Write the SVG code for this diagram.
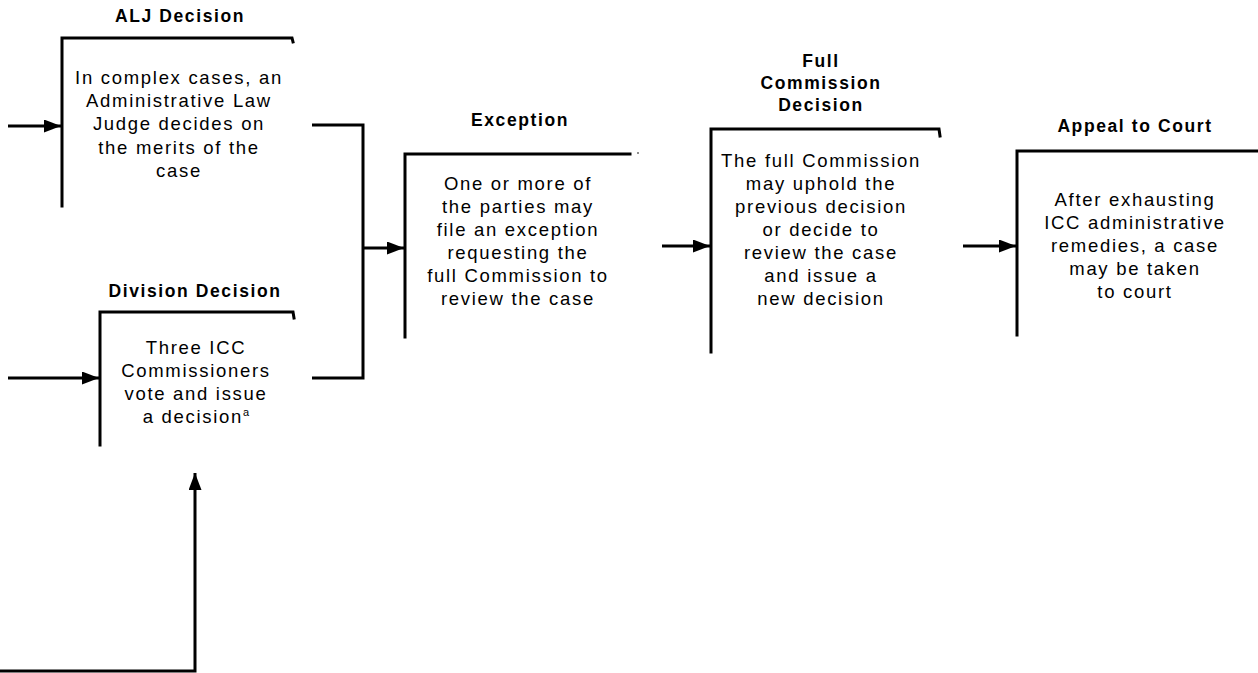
<svg xmlns="http://www.w3.org/2000/svg" width="1258" height="673" viewBox="0 0 1258 673">
<style>
.bg{fill:#fff}
.frame{fill:none;stroke:#000;stroke-width:3;stroke-linecap:square}
.conn{fill:none;stroke:#000;stroke-width:3}
.title{font-family:"Liberation Sans",Arial,sans-serif;font-weight:bold;font-size:17.5px;letter-spacing:1.6px;text-anchor:middle;fill:#000}
.body{font-family:"Liberation Sans",Arial,sans-serif;font-size:18.5px;letter-spacing:1.7px;text-anchor:middle;fill:#000}
.sup{font-size:11px;letter-spacing:0}
</style>
<defs>
<marker id="ah" markerUnits="userSpaceOnUse" markerWidth="18" markerHeight="13" refX="17" refY="6.5" orient="auto">
<path d="M0,0 L17,6.5 L0,13 Z" fill="#000"/>
</marker>
</defs>
<rect class="bg" x="0" y="0" width="1258" height="673"/>

<g id="connectors">
<line class="conn" x1="8" y1="126" x2="61" y2="126" marker-end="url(#ah)"/>
<line class="conn" x1="8" y1="378" x2="99" y2="378" marker-end="url(#ah)"/>
<polyline class="conn" points="0,671 195,671 195,473" marker-end="url(#ah)"/>
<polyline class="conn" points="312,125 363,125 363,378 312,378"/>
<line class="conn" x1="363" y1="248" x2="404" y2="248" marker-end="url(#ah)"/>
<line class="conn" x1="662" y1="246" x2="710" y2="246" marker-end="url(#ah)"/>
<line class="conn" x1="963" y1="246" x2="1016" y2="246" marker-end="url(#ah)"/>
</g>

<g id="alj">
<path class="frame" d="M62,206 L62,38 L292,38 L293,42"/>
<text class="title" x="180" y="22">ALJ Decision</text>
<text class="body" x="179" y="84">In complex cases, an</text>
<text class="body" x="179" y="107">Administrative Law</text>
<text class="body" x="179" y="130">Judge decides on</text>
<text class="body" x="179" y="154">the merits of the</text>
<text class="body" x="179" y="177">case</text>
</g>

<g id="division">
<path class="frame" d="M100,445 L100,312 L293,312 L294,318"/>
<text class="title" x="195" y="297">Division Decision</text>
<text class="body" x="196" y="354">Three ICC</text>
<text class="body" x="196" y="377">Commissioners</text>
<text class="body" x="196" y="400">vote and issue</text>
<text class="body" x="196" y="423">a decision<tspan class="sup" dy="-7">a</tspan></text>
</g>

<g id="exception">
<path class="frame" d="M405,337 L405,154 L630,154"/>
<circle cx="638" cy="153" r="0.8" fill="#000"/>
<text class="title" x="520" y="126">Exception</text>
<text class="body" x="518" y="190">One or more of</text>
<text class="body" x="518" y="213">the parties may</text>
<text class="body" x="518" y="236">file an exception</text>
<text class="body" x="518" y="259">requesting the</text>
<text class="body" x="518" y="282">full Commission to</text>
<text class="body" x="518" y="305">review the case</text>
</g>

<g id="full-commission">
<path class="frame" d="M711,352 L711,129 L939,129 L940,136"/>
<text class="title" x="821" y="67">Full</text>
<text class="title" x="821" y="89">Commission</text>
<text class="title" x="821" y="111">Decision</text>
<text class="body" x="821" y="167">The full Commission</text>
<text class="body" x="821" y="190">may uphold the</text>
<text class="body" x="821" y="213">previous decision</text>
<text class="body" x="821" y="236">or decide to</text>
<text class="body" x="821" y="259">review the case</text>
<text class="body" x="821" y="282">and issue a</text>
<text class="body" x="821" y="305">new decision</text>
</g>

<g id="appeal">
<path class="frame" d="M1017,335 L1017,151 L1258,151"/>
<text class="title" x="1135" y="132">Appeal to Court</text>
<text class="body" x="1135" y="206">After exhausting</text>
<text class="body" x="1135" y="229">ICC administrative</text>
<text class="body" x="1135" y="252">remedies, a case</text>
<text class="body" x="1135" y="275">may be taken</text>
<text class="body" x="1135" y="298">to court</text>
</g>
</svg>
